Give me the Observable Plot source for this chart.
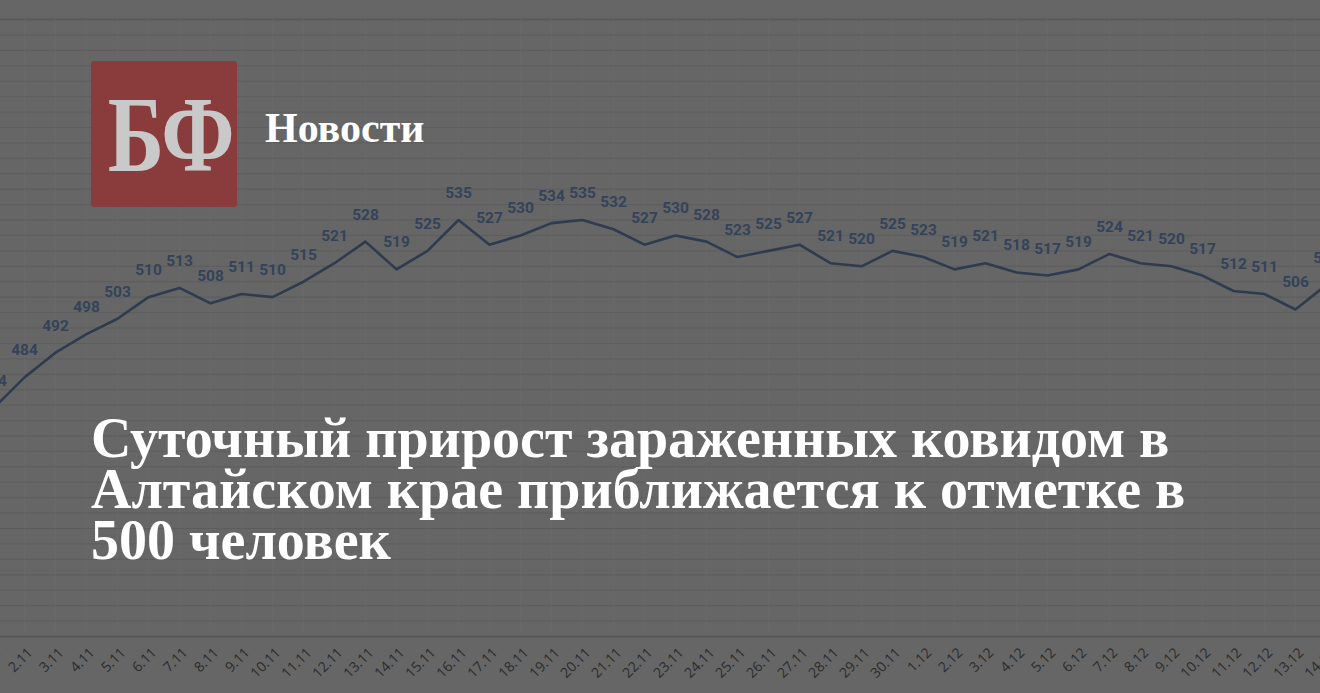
<!DOCTYPE html>
<html>
<head>
<meta charset="utf-8">
<script src="https://cdn.jsdelivr.net/npm/d3@7"></script>
<script src="https://cdn.jsdelivr.net/npm/@observablehq/plot@0.6"></script>
<style>
  html, body { margin: 0; padding: 0; overflow: hidden; background: #666666; }
  #wrap { position: relative; width: 1320px; height: 693px; overflow: hidden; }
  #chart { position: absolute; left: 0; top: 0; }
  #logo { position: absolute; left: 91px; top: 61px; width: 146px; height: 146px; background: #8a3b3b; border-radius: 3px;
          color: #c9c9c9; font-family: "Liberation Serif", "DejaVu Serif", serif; font-weight: bold; font-size: 108px;
          line-height: 148px; text-align: center; }
  #logo span { display: inline-block; transform: scaleX(0.79); letter-spacing: -2px; }
  #brand { position: absolute; left: 265px; top: 104px; color: #ffffff; font-family: "Liberation Serif", "DejaVu Serif", serif;
           font-weight: bold; font-size: 42px; line-height: 48px; }
  #title { position: absolute; left: 91px; top: 413px; width: 1229px; color: #ffffff; font-family: "Liberation Serif", "DejaVu Serif", serif;
           font-weight: bold; font-size: 56px; line-height: 51px; white-space: nowrap; }
</style>
</head>
<body>
<div id="wrap">
  <div id="chart"></div>
  <div id="logo"><span>БФ</span></div>
  <div id="brand">Новости</div>
  <div id="title">Суточный прирост зараженных ковидом в<br>Алтайском крае приближается к отметке в<br>500 человек</div>
</div>
<script>
const dates = ["1.11","2.11","3.11","4.11","5.11","6.11","7.11","8.11","9.11","10.11","11.11","12.11","13.11","14.11","15.11",
  "16.11","17.11","18.11","19.11","20.11","21.11","22.11","23.11","24.11","25.11","26.11","27.11","28.11","29.11","30.11",
  "1.12","2.12","3.12","4.12","5.12","6.12","7.12","8.12","9.12","10.12","11.12","12.12","13.12","14.12"];
const cases = [474,484,492,498,503,510,513,508,511,510,515,521,528,519,525,
  535,527,530,534,535,532,527,530,528,523,525,527,521,520,525,
  523,519,521,518,517,519,524,521,520,517,512,511,506,514];
const gridValues = d3.range(405, 600, 5);

const data = dates.map((d, i) => ({date: d, value: cases[i]}));

const chart = Plot.plot({
  width: 1320,
  height: 693,
  marginTop: 19,
  marginBottom: 57,
  marginLeft: 0,
  marginRight: 0,
  style: {background: "#666666", overflow: "hidden"},
  x: {type: "point", domain: dates, range: [-9, 1328], padding: 0, axis: null},
  y: {domain: [400, 600], axis: null},
  marks: [
    Plot.ruleY(gridValues, {stroke: "#5d5d5d", strokeWidth: 1}),
    Plot.ruleY([600], {stroke: "#575757", strokeWidth: 1.5}),
    Plot.ruleX(dates, {x: d => d, stroke: "#6a6a6a", strokeWidth: 1, y1: 400, y2: 600, strokeOpacity: 0.5}),
    Plot.ruleY([400], {stroke: "#555555", strokeWidth: 1.5}),
    Plot.line(data, {x: "date", y: "value", stroke: "#2f3b4f", strokeWidth: 2.6, curve: "linear"}),
    Plot.text(data, {x: "date", y: "value", text: d => String(d.value), dy: -27, fill: "#34435a",
      fontSize: 15.5, fontWeight: "bold", fontFamily: "Roboto, sans-serif"}),
    Plot.text(dates, {x: d => d, frameAnchor: "bottom", text: d => d, rotate: -45, textAnchor: "end",
      dx: 9, dy: 17, fill: "#2b2b2b", fontSize: 14, fontFamily: "'Open Sans', sans-serif"})
  ]
});
document.getElementById("chart").appendChild(chart);
</script>
</body>
</html>
